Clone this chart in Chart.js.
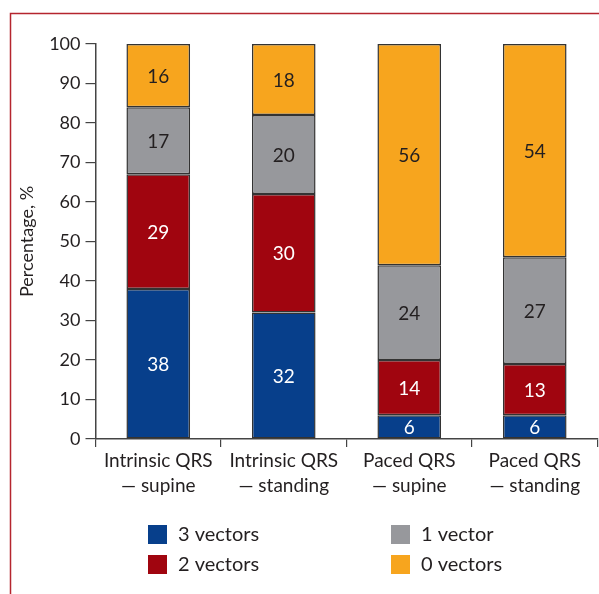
<!DOCTYPE html>
<html>
<head>
<meta charset="utf-8">
<script src="https://cdn.jsdelivr.net/npm/chart.js@4"></script>
<style>
  html, body { margin: 0; padding: 0; background: #fff; }
  #wrap { width: 599px; height: 594px; position: relative; }
</style>
</head>
<body>
<div id="wrap"><canvas id="c" width="599" height="594"></canvas></div>
<script>
// Categories (two-line axis labels)
const categories = [
  ["Intrinsic QRS", "\u2014 supine"],
  ["Intrinsic QRS", "\u2014 standing"],
  ["Paced QRS", "\u2014 supine"],
  ["Paced QRS", "\u2014 standing"]
];

// Percentage of patients per number of vectors
const threeVectors = [38, 32, 6, 6];
const twoVectors   = [29, 30, 14, 13];
const oneVector    = [17, 20, 24, 27];
const zeroVectors  = [16, 18, 56, 54];

const seriesNames = ["3 vectors", "2 vectors", "1 vector", "0 vectors"];
const yTicks = [0, 10, 20, 30, 40, 50, 60, 70, 80, 90, 100];

const FONT = "Lato, 'Liberation Sans', sans-serif";
const TEXT = "#231f20";
const colors = ["#073f8b", "#a0050f", "#97989c", "#f7a51e"];
const labelColors = ["#ffffff", "#ffffff", TEXT, TEXT];

const seriesData = [threeVectors, twoVectors, oneVector, zeroVectors];

const datasets = seriesData.map((d, i) => ({
  label: seriesNames[i],
  data: d,
  backgroundColor: colors[i],
  borderColor: "#333333",
  borderWidth: 1.5,
  borderSkipped: false,
  categoryPercentage: 1.0,
  barPercentage: 0.507
}));

// Value labels centred inside each stacked segment
const segmentLabels = {
  id: "segmentLabels",
  afterDatasetsDraw(chart) {
    const ctx = chart.ctx;
    ctx.save();
    ctx.font = "19px " + FONT;
    ctx.textAlign = "center";
    ctx.textBaseline = "middle";
    chart.data.datasets.forEach((ds, i) => {
      const meta = chart.getDatasetMeta(i);
      meta.data.forEach((bar, j) => {
        const p = bar.getProps(["x", "y", "base"], true);
        ctx.fillStyle = labelColors[i];
        ctx.fillText(String(ds.data[j]), p.x, (p.y + p.base) / 2 + 1);
      });
    });
    ctx.restore();
  }
};

// Frame rule along the top and left edges
const frame = {
  id: "frame",
  beforeDraw(chart) {
    const ctx = chart.ctx;
    ctx.save();
    ctx.fillStyle = "#fff";
    ctx.fillRect(0, 0, chart.width, chart.height);
    ctx.strokeStyle = "#b5252e";
    ctx.lineWidth = 1.5;
    ctx.beginPath();
    ctx.moveTo(10.5, chart.height);
    ctx.lineTo(10.5, 13.5);
    ctx.lineTo(chart.width, 13.5);
    ctx.stroke();
    ctx.restore();
  }
};

// Two-column legend under the axis
const gridLegend = {
  id: "gridLegend",
  afterDraw(chart) {
    const ctx = chart.ctx;
    ctx.save();
    ctx.font = "20px " + FONT;
    ctx.textBaseline = "middle";
    ctx.textAlign = "left";
    const cols = [148, 391];
    const rows = [534, 564];
    // row-major order: 3 vectors, 1 vector / 2 vectors, 0 vectors
    const order = [[0, 2], [1, 3]];
    order.forEach((row, r) => {
      row.forEach((idx, c) => {
        const x = cols[c], y = rows[r];
        ctx.fillStyle = colors[idx];
        ctx.fillRect(x, y - 9, 19, 19);
        ctx.fillStyle = TEXT;
        ctx.fillText(seriesNames[idx], x + 30, y + 1);
      });
    });
    ctx.restore();
  }
};

new Chart(document.getElementById("c"), {
  type: "bar",
  data: { labels: categories, datasets },
  plugins: [frame, segmentLabels, gridLegend],
  options: {
    responsive: false,
    animation: false,
    events: [],
    layout: { padding: { left: 0, right: 1.5, top: 44, bottom: 0 } },
    plugins: { legend: { display: false }, tooltip: { enabled: false } },
    scales: {
      x: {
        stacked: true,
        offset: true,
        grid: {
          offset: true,
          drawOnChartArea: false,
          drawTicks: true,
          tickLength: 8,
          color: "#444",
          lineWidth: 1.2
        },
        border: { display: true, color: "#444", width: 1.5 },
        ticks: {
          color: TEXT,
          font: { family: FONT, size: 19, lineHeight: 1.3 },
          padding: 2,
          maxRotation: 0,
          autoSkip: false
        },
        afterFit(scale) { scale.height = 155; }
      },
      y: {
        stacked: true,
        min: 0,
        max: 100,
        afterBuildTicks(scale) { scale.ticks = yTicks.map(v => ({ value: v })); },
        grid: {
          drawOnChartArea: false,
          drawTicks: true,
          tickLength: 10,
          color: "#444",
          lineWidth: 1.2
        },
        border: { display: true, color: "#444", width: 1.5 },
        ticks: {
          color: TEXT,
          font: { family: FONT, size: 18 },
          padding: 5
        },
        title: {
          display: true,
          text: "Percentage, %",
          color: TEXT,
          font: { family: FONT, size: 18 },
          padding: { top: 16, bottom: 0 }
        },
        afterFit(scale) { scale.width = 95.5; }
      }
    }
  }
});
</script>
</body>
</html>
